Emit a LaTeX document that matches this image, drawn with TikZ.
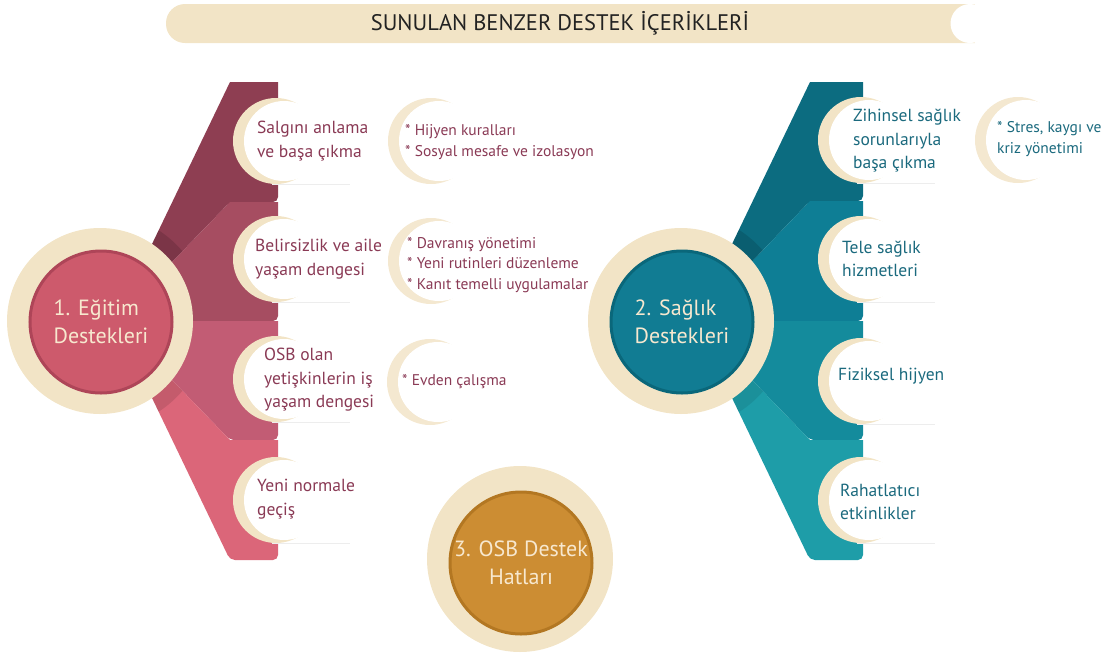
\documentclass[tikz,border=0pt]{standalone}
\usepackage{fontspec}
\setmainfont{PT Sans}
\definecolor{beige}{HTML}{F2E4C6}
\definecolor{beigeL}{HTML}{F4E8D0}
\definecolor{rA}{HTML}{8E3E52}
\definecolor{rB}{HTML}{A64D61}
\definecolor{rC}{HTML}{C25C74}
\definecolor{rD}{HTML}{DB6679}
\definecolor{rIn}{HTML}{CD5A6C}
\definecolor{rBd}{HTML}{AE4558}
\definecolor{tA}{HTML}{0C6C80}
\definecolor{tB}{HTML}{0E7E95}
\definecolor{tC}{HTML}{148B9C}
\definecolor{tD}{HTML}{1E9DA8}
\definecolor{tIn}{HTML}{117C93}
\definecolor{tBd}{HTML}{0A677A}
\definecolor{gIn}{HTML}{CC8D33}
\definecolor{gBd}{HTML}{B37722}
\definecolor{mtext}{HTML}{8A3A55}
\definecolor{ttext}{HTML}{1B6A7E}
\definecolor{ctext}{HTML}{F7E8CF}
\definecolor{titletext}{HTML}{222222}
\tikzset{
  ring/.style={circle, fill=beige, minimum size=186pt, inner sep=0pt},
  hub/.style={circle, line width=3pt, minimum size=142pt, inner sep=0pt, text=ctext,
    font=\fontsize{22}{28}\selectfont},
  item/.style={anchor=west, align=left, inner sep=0pt, font=\fontsize{17.5}{23.5}\selectfont},
  detail/.style={anchor=west, align=left, inner sep=0pt, font=\fontsize{15.5}{20.5}\selectfont},
  faint/.style={draw=black!7, line width=0.8pt}
}
% band: colour, apex x, column left x, column right x, top y, bottom y
\newcommand{\bandpath}[5]{(#2,#4) -- (#3,#4) [rounded corners=5pt] -- (#3,#5) -- (#2,#5) [sharp corners] -- (#1,321) -- cycle}
\newcommand{\crescent}[3]{% x, y, colour
  \fill[#3] (#1,#2) circle (43);
  \fill[white] (#1+8,#2) circle (40);
}
\begin{document}
\begin{tikzpicture}[x=1pt,y=-1pt]
\useasboundingbox (0,0) rectangle (1112,654);
% ---------- title banner
\fill[beige, rounded corners=19pt] (166,4) rectangle (995,43);
\fill[white] (975,0) rectangle (1000,48);
\fill[white] (970,23.5) circle (19.5);
\node[font=\fontsize{22.5}{25}\selectfont, text=titletext] (title) at (560,23) {SUNULAN BENZER DESTEK İÇERİKLERİ};

% ---------- left fan
\fill[rA] \bandpath{115}{230}{278}{82}{202};
\fill[rB] \bandpath{115}{230}{278}{202}{321};
\fill[rC] \bandpath{115}{230}{278}{321}{440};
\fill[rD] \bandpath{115}{230}{278}{440}{560};
\begin{scope}
  \clip \bandpath{115}{230}{278}{82}{202};
  \fill[black, opacity=.13] (100,321) circle (108);
\end{scope}
\begin{scope}
  \clip \bandpath{115}{230}{278}{440}{560};
  \fill[black, opacity=.10] (100,321) circle (108);
\end{scope}

% ---------- right fan
\fill[tA] \bandpath{695}{810}{863}{82}{201};
\fill[tB] \bandpath{695}{810}{863}{201}{321};
\fill[tC] \bandpath{695}{810}{863}{321}{440};
\fill[tD] \bandpath{695}{810}{863}{440}{560};
\begin{scope}
  \clip \bandpath{695}{810}{863}{82}{201};
  \fill[black, opacity=.12] (681,321) circle (108);
\end{scope}
\begin{scope}
  \clip \bandpath{695}{810}{863}{440}{560};
  \fill[black, opacity=.08] (681,321) circle (108);
\end{scope}

% ---------- crescents on fans
\crescent{276}{141}{beige}
\crescent{276}{259}{beige}
\crescent{276}{379}{beige}
\crescent{276}{500}{beige}
\crescent{861}{140}{beige}
\crescent{861}{259}{beige}
\crescent{861}{381}{beige}
\crescent{861}{500}{beige}
% detail crescents
\crescent{431}{141}{beigeL}
\crescent{431}{261}{beigeL}
\crescent{430}{382}{beigeL}
\crescent{1018}{140}{beigeL}

% faint lines under items
\draw[faint] (272,184) -- (350,184);
\draw[faint] (272,302) -- (350,302);
\draw[faint] (272,422) -- (350,422);
\draw[faint] (272,543) -- (350,543);
\draw[faint] (857,183) -- (935,183);
\draw[faint] (857,302) -- (935,302);
\draw[faint] (857,424) -- (935,424);
\draw[faint] (857,543) -- (935,543);

% ---------- hub circles
\node[ring] (ring1) at (100,321) {};
\node[hub, fill=rIn, draw=rBd, align=left] (hub1) at (101,322) {1. Eğitim\\Destekleri};
\node[ring] (ring2) at (681,321) {};
\node[hub, fill=tIn, draw=tBd, align=left] (hub2) at (682,322) {2. Sağlık\\Destekleri};
\node[ring] (ring3) at (520,559) {};
\node[hub, fill=gIn, draw=gBd, align=center] (hub3) at (521,563) {3. OSB Destek\\Hatları};

% ---------- left items
\node[item, text=mtext] (l1) at (257,141) {Salgını anlama\\ve başa çıkma};
\node[item, text=mtext] (l2) at (255,259) {Belirsizlik ve aile\\yaşam dengesi};
\node[item, text=mtext] (l3) at (264,380) {OSB olan\\yetişkinlerin iş\\yaşam dengesi};
\node[item, text=mtext] (l4) at (257,499) {Yeni normale\\geçiş};
% left details
\node[detail, text=mtext] (d1) at (405,142) {* Hijyen kuralları\\* Sosyal mesafe ve izolasyon};
\node[detail, text=mtext] (d2) at (407,265) {* Davranış yönetimi\\* Yeni rutinleri düzenleme\\* Kanıt temelli uygulamalar};
\node[detail, text=mtext] (d3) at (402,382) {* Evden çalışma};

% ---------- right items
\node[item, text=ttext] (r1) at (853,141) {Zihinsel sağlık\\sorunlarıyla\\başa çıkma};
\node[item, text=ttext] (r2) at (842,259) {Tele sağlık\\hizmetleri};
\node[item, text=ttext] (r3) at (838,376) {Fiziksel hijyen};
\node[item, text=ttext] (r4) at (840,502) {Rahatlatıcı\\etkinlikler};
\node[detail, text=ttext] (d4) at (997,139) {* Stres, kaygı ve\\kriz yönetimi};
\end{tikzpicture}
\end{document}
